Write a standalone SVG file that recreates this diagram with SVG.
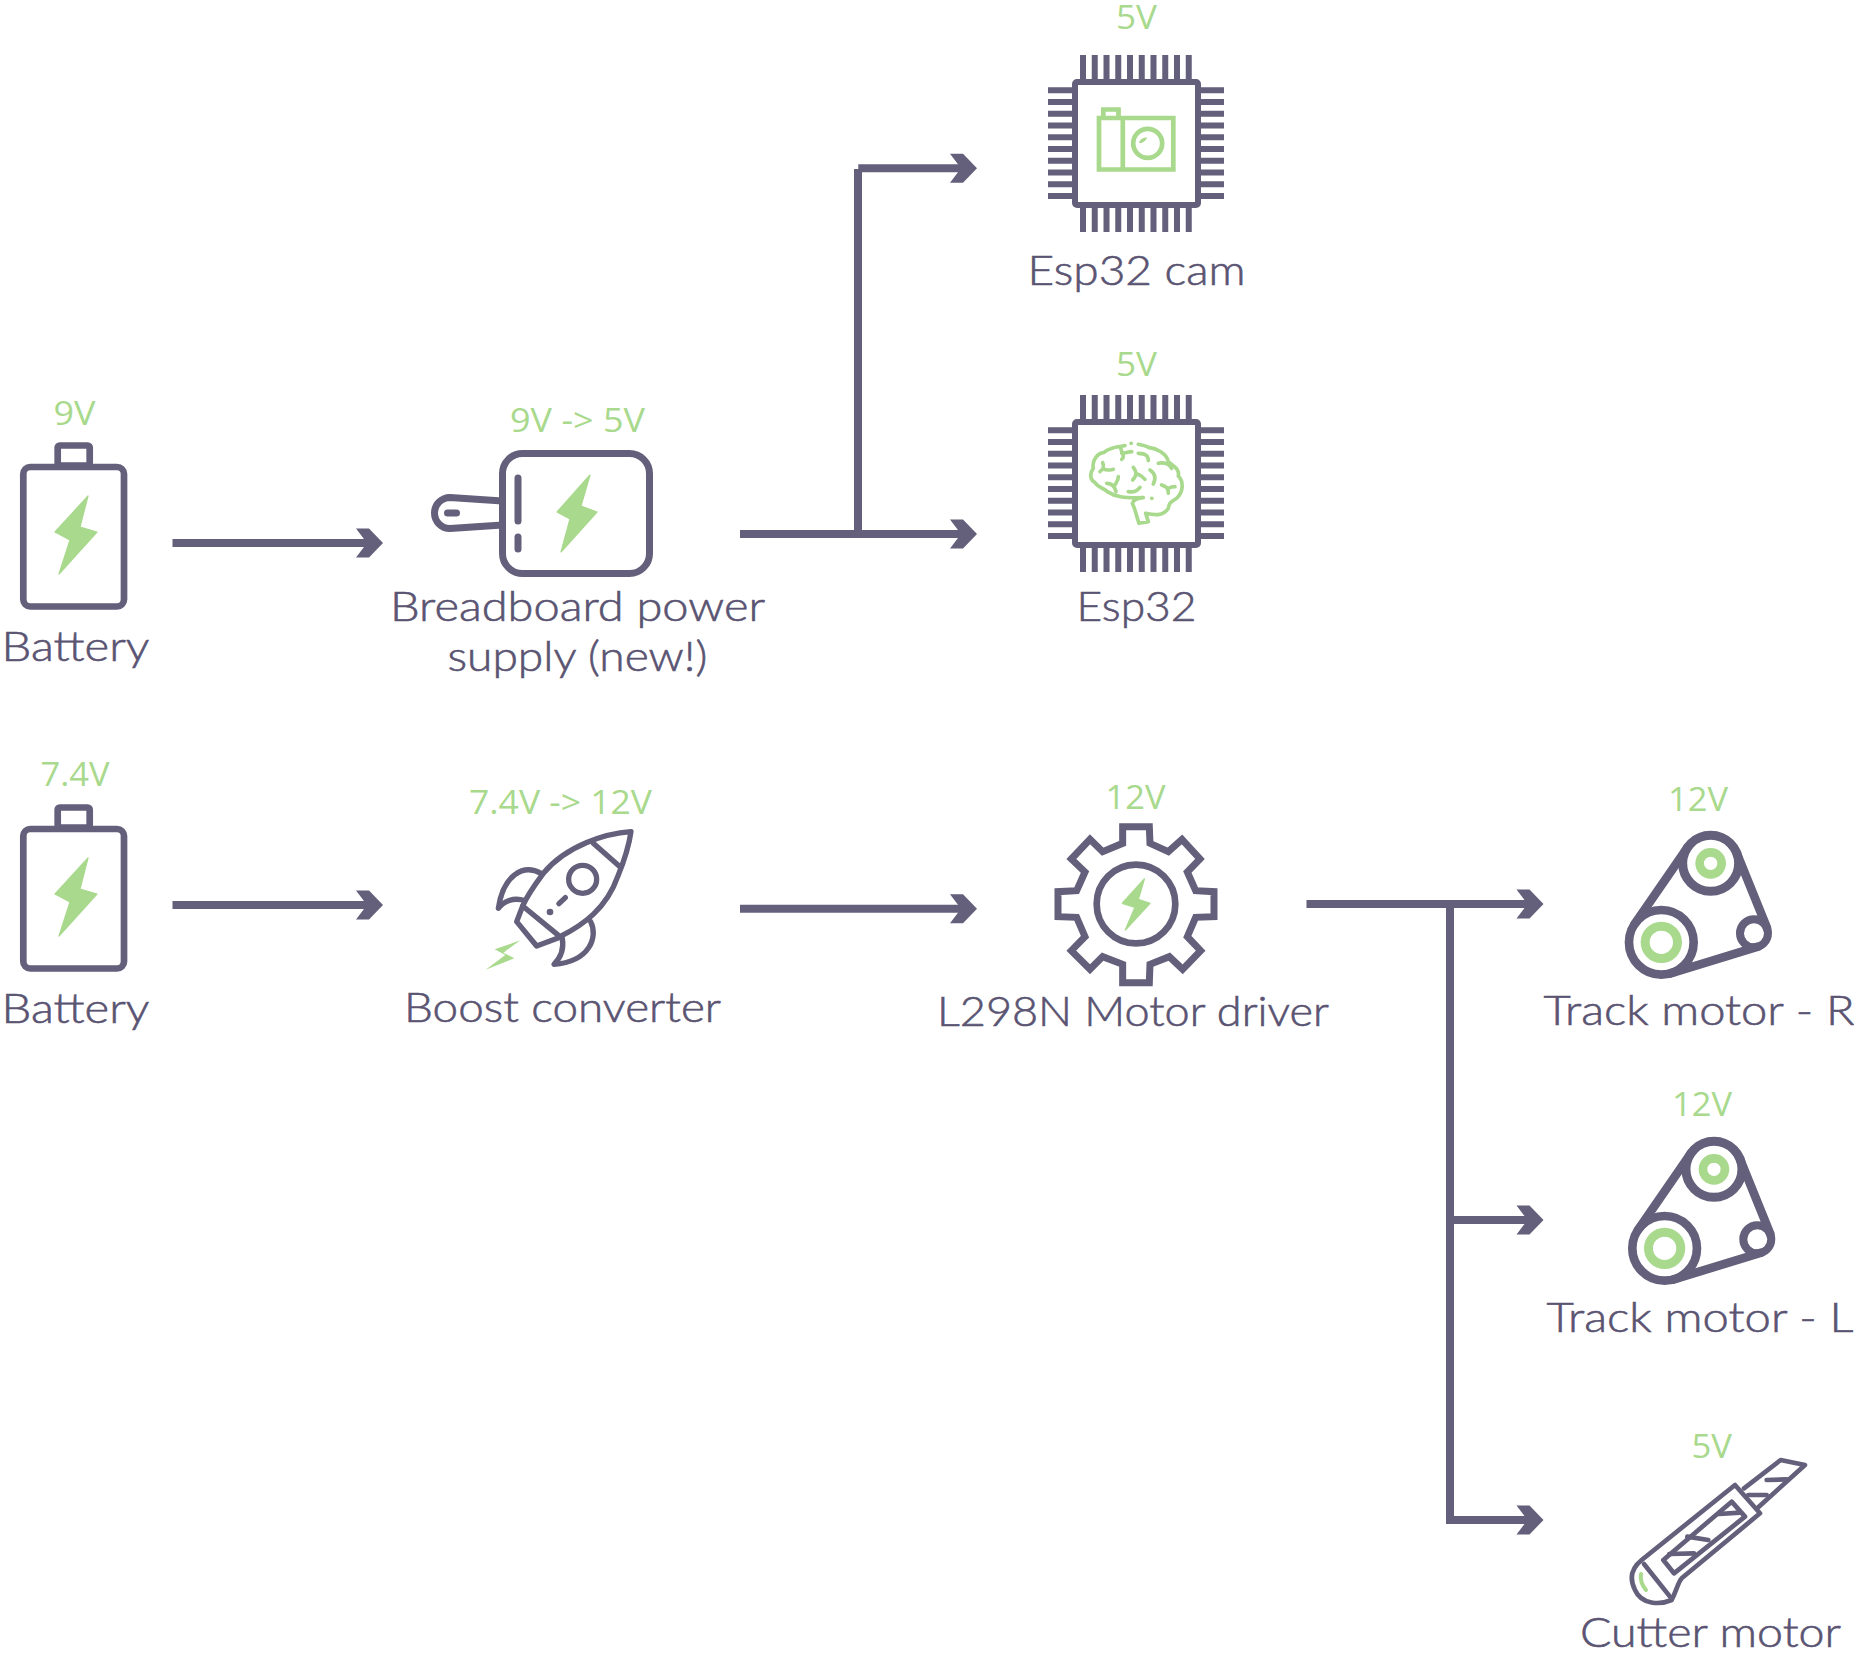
<svg xmlns="http://www.w3.org/2000/svg" xmlns:xlink="http://www.w3.org/1999/xlink" width="1854" height="1660" viewBox="0 0 1854 1660">
<style>
text{font-family:"Lato","Open Sans",sans-serif}
.l{font-size:40.5px;font-weight:300;fill:#5a5472;stroke:#5a5472;stroke-width:.6}
.v{font-family:"Open Sans","Noto Sans",sans-serif;font-size:32px;font-weight:400;fill:#a8d98c}
.p{fill:none;stroke:#645f7b;stroke-linejoin:round;stroke-linecap:round}
.g{fill:none;stroke:#a8d98c;stroke-linejoin:round;stroke-linecap:round}
.gf{fill:#a8d98c;stroke:#a8d98c;stroke-width:1.200;stroke-linejoin:round}
.c{fill:none;stroke:#645f7b;stroke-width:8}
.h{fill:#645f7b}
</style>
<defs>
<path id="head" d="M-27-14.5H-14L0 0-14 14.5H-27L-16 0Z"/>
<g id="batt">
<rect class="p" x="57.7" y="807.5" width="32" height="20" rx="2" stroke-width="6.7"/>
<rect x="23.3" y="829" width="100.7" height="139.5" rx="7" fill="#fff" stroke="#645f7b" stroke-width="6.7"/>
</g>
<g id="chip">
<rect x="1075" y="82" width="123" height="123" rx="2" fill="#fff" stroke="#645f7b" stroke-width="6"/>
<g fill="none" stroke="#645f7b" stroke-dasharray="6 5.75">
<path d="M1080 67H1192M1080 220H1192" stroke-width="24"/>
<path d="M1060 87.3V200M1212 87.3V200" stroke-width="24"/>
</g>
</g>
<g id="belt">
<path class="p" stroke-width="26" d="M293 202L134 432M440 219L531 444M242 580L504 500"/>
<circle class="p" cx="362" cy="250" r="84" stroke-width="27"/>
<circle class="p" cx="214" cy="487" r="97" stroke-width="26"/>
<circle class="p" cx="492" cy="460" r="42" stroke-width="24"/>
<circle class="g" cx="362" cy="250" r="33" stroke-width="26"/>
<circle class="g" cx="214" cy="487" r="48.5" stroke-width="27"/>
</g>
</defs>

<g id="connectors">
<path class="c" d="M172.500 543H372"/><use href="#head" class="h" transform="translate(383 543)"/>
<path class="c" d="M172.500 905H372"/><use href="#head" class="h" transform="translate(383 905)"/>
<path class="c" d="M740 534H966"/><use href="#head" class="h" transform="translate(977 534)"/>
<path class="c" d="M858 534V169"/><path class="c" d="M858.300 168.300H966"/><use href="#head" class="h" transform="translate(977 168.300)"/>
<path class="c" d="M740 908.800H966"/><use href="#head" class="h" transform="translate(977 908.800)"/>
<path class="c" d="M1306.500 904H1533"/><use href="#head" class="h" transform="translate(1543.500 904)"/>
<path class="c" d="M1450 904V1524"/>
<path class="c" d="M1450 1220H1533"/><use href="#head" class="h" transform="translate(1543.500 1220)"/>
<path class="c" d="M1446 1520H1533"/><use href="#head" class="h" transform="translate(1543.500 1520)"/>
</g>

<g id="battery-9v">
<use href="#batt" transform="translate(0 -362)"/>
<path class="gf" d="M88 496L80 527 97 532 59 574 70 540 55 532Z"/>
<text class="v" x="53.500" y="425" textLength="42" lengthAdjust="spacingAndGlyphs">9V</text>
<text class="l" x="1.500" y="660.500" textLength="148" lengthAdjust="spacingAndGlyphs">Battery</text>
</g>

<g id="breadboard-supply">
<path class="p" stroke-width="7" d="M502.500 501L450 497.500A15.500 15.500 0 0 0 450 528.500L502.500 525"/>
<rect x="502.500" y="453.500" width="147" height="120" rx="20" fill="none" stroke="#645f7b" stroke-width="7"/>
<path class="p" stroke-width="7" d="M447.500 513H456.500"/>
<path class="p" stroke-width="7" d="M518 478V521M518 537V549"/>
<path class="gf" d="M590 475L557 512 570 519 561 552 597 512 581 506Z"/>
<text class="v" x="510" y="432" textLength="135" lengthAdjust="spacingAndGlyphs">9V -&gt; 5V</text>
<text class="l" x="390" y="620.500" textLength="375" lengthAdjust="spacingAndGlyphs">Breadboard power</text>
<text class="l" x="447.500" y="670.500" textLength="260" lengthAdjust="spacingAndGlyphs">supply (new!)</text>
</g>

<g id="esp32-cam">
<use href="#chip"/>
<g class="g" stroke-width="4.700">
<path style="stroke-linecap:butt;stroke-linejoin:miter" d="M1099 118H1173.300V169.500H1099ZM1122.800 118V169.500M1103.300 117V109.500H1118.500V117"/>
<circle cx="1147.700" cy="143.300" r="14.500"/>
</g>
<path d="M1139 143C1140 139 1143 137.500 1147 137.500C1146 141 1143 143 1139 143Z" fill="#a8d98c"/>
<text class="v" x="1116" y="29" textLength="41" lengthAdjust="spacingAndGlyphs">5V</text>
<text class="l" x="1027.500" y="285" textLength="218" lengthAdjust="spacingAndGlyphs">Esp32 cam</text>
</g>

<g id="esp32">
<use href="#chip" transform="translate(0 340)"/>
<g transform="translate(1000 340) scale(.3333)" class="g" stroke-width="11">
<path d="M375 317C345 322 325 325 312 337C290 340 275 365 280 385C268 400 270 420 285 428C295 445 315 445 322 455C345 470 370 475 430 473C410 475 400 482 397 490C405 505 410 530 417 550L445 545L437 520C460 525 490 530 505 505C507 490 510 488 530 475C550 455 552 425 535 408C540 385 515 375 505 365C500 340 470 325 445 322C435 315 425 315 415 313"/>
<path d="M393 310H394M455 475H456"/>
<path d="M362 325C368 345 375 350 365 358M365 340C375 340 385 335 395 335"/>
<path d="M415 340C440 340 445 350 445 362"/>
<path d="M475 370C495 365 510 375 515 385"/>
<path d="M308 368C312 380 312 385 300 395M312 388C322 392 330 390 340 388"/>
<path d="M400 382C410 395 412 405 398 420M412 402C422 405 430 412 435 418"/>
<path d="M450 390C465 400 468 415 460 432"/>
<path d="M320 430C335 430 345 440 348 455M345 435C350 425 355 420 355 410"/>
<path d="M485 435C500 440 505 445 505 460M505 445C515 440 520 440 525 440"/>
<path d="M385 455C400 458 412 452 420 442"/>
</g>
<text class="v" x="1116" y="376" textLength="41" lengthAdjust="spacingAndGlyphs">5V</text>
<text class="l" x="1076.500" y="620.500" textLength="120" lengthAdjust="spacingAndGlyphs">Esp32</text>
</g>

<g id="battery-7v4">
<use href="#batt"/>
<path class="gf" d="M88 858L80 889 97 894 59 936 70 902 55 894Z"/>
<text class="v" x="40.500" y="786" textLength="69" lengthAdjust="spacingAndGlyphs">7.4V</text>
<text class="l" x="1.500" y="1022.500" textLength="148" lengthAdjust="spacingAndGlyphs">Battery</text>
</g>

<g id="boost-converter">
<g transform="translate(440 780) scale(.3333)">
<g class="p" stroke-width="16">
<path d="M573 155C500 160 380 195 310 280C280 320 260 350 248 378L360 470C430 435 500 385 533 290C558 230 568 190 573 155Z"/>
<path d="M460 190L540 260"/>
<circle cx="428" cy="298" r="42"/>
<path d="M357 371L376 353"/>
<path d="M248 378L230 425L290 498L360 472"/>
<path d="M303 280C250 250 190 285 175 385C190 365 220 350 255 362"/>
<path d="M452 425C475 470 450 545 342 553C365 530 372 505 367 475"/>
</g>
<circle cx="330" cy="396" r="10" fill="#645f7b"/>
<path d="M241 481L164 508 196 525 137 569 223 535 190 518Z" fill="#a8d98c"/>
</g>
<text class="v" x="469" y="813.500" textLength="183" lengthAdjust="spacingAndGlyphs">7.4V -&gt; 12V</text>
<text class="l" x="404" y="1021.500" textLength="317" lengthAdjust="spacingAndGlyphs">Boost converter</text>
</g>

<g id="motor-driver">
<g transform="translate(1030 780) scale(.3333)">
<path class="p" stroke-width="21" stroke-linecap="butt" d="M278 140H358L360 190L415 215L456 178L510 237L472 276L497 332L552 335V410L497 412L472 470L512 512L458 568L418 530L360 553L358 608H278L278 553L218 530L180 568L124 512L165 470L140 412L84 410V335L140 332L165 276L124 237L180 178L218 215L278 190Z" style="stroke-linejoin:miter"/>
<circle class="p" cx="318" cy="372" r="118" stroke-width="20"/>
<path d="M343 297L277 370 315 382 286 450 360 370 325 358Z" fill="#a8d98c" stroke="#a8d98c" stroke-width="4" stroke-linejoin="round"/>
</g>
<text class="v" x="1105.500" y="809" textLength="60" lengthAdjust="spacingAndGlyphs">12V</text>
<text class="l" x="937" y="1026" textLength="392" lengthAdjust="spacingAndGlyphs">L298N Motor driver</text>
</g>

<g id="track-motor-r">
<use href="#belt" transform="translate(1590 780) scale(.3333)"/>
<text class="v" x="1668" y="810.500" textLength="60" lengthAdjust="spacingAndGlyphs">12V</text>
<text class="l" x="1543.500" y="1024.500" textLength="311" lengthAdjust="spacingAndGlyphs">Track motor - R</text>
</g>

<g id="track-motor-l">
<use href="#belt" transform="translate(1593.300 1086) scale(.3333)"/>
<text class="v" x="1672" y="1116" textLength="60" lengthAdjust="spacingAndGlyphs">12V</text>
<text class="l" x="1546.500" y="1332" textLength="307" lengthAdjust="spacingAndGlyphs">Track motor - L</text>
</g>

<g id="cutter-motor">
<g transform="translate(1570 1420) scale(.3333)">
<g class="p" stroke-width="14">
<path d="M215 420L495 195L570 280L335 475C325 485 320 510 305 540C270 555 215 555 195 510C175 470 190 440 215 420Z"/>
<path d="M222 432L300 530"/>
<path d="M280 420L485 245L525 290L312 460Z"/>
<path d="M447 282L510 278M352 350L415 360M298 402L372 400"/>
<path d="M522 205L632 120L705 135L565 262"/>
<path d="M590 180L650 178M535 225L590 225"/>
</g>
<path class="g" stroke-width="12" d="M213 462C210 480 218 498 228 510"/>
</g>
<text class="v" x="1691.500" y="1457.500" textLength="40.500" lengthAdjust="spacingAndGlyphs">5V</text>
<text class="l" x="1580" y="1646.500" textLength="261" lengthAdjust="spacingAndGlyphs">Cutter motor</text>
</g>
</svg>
